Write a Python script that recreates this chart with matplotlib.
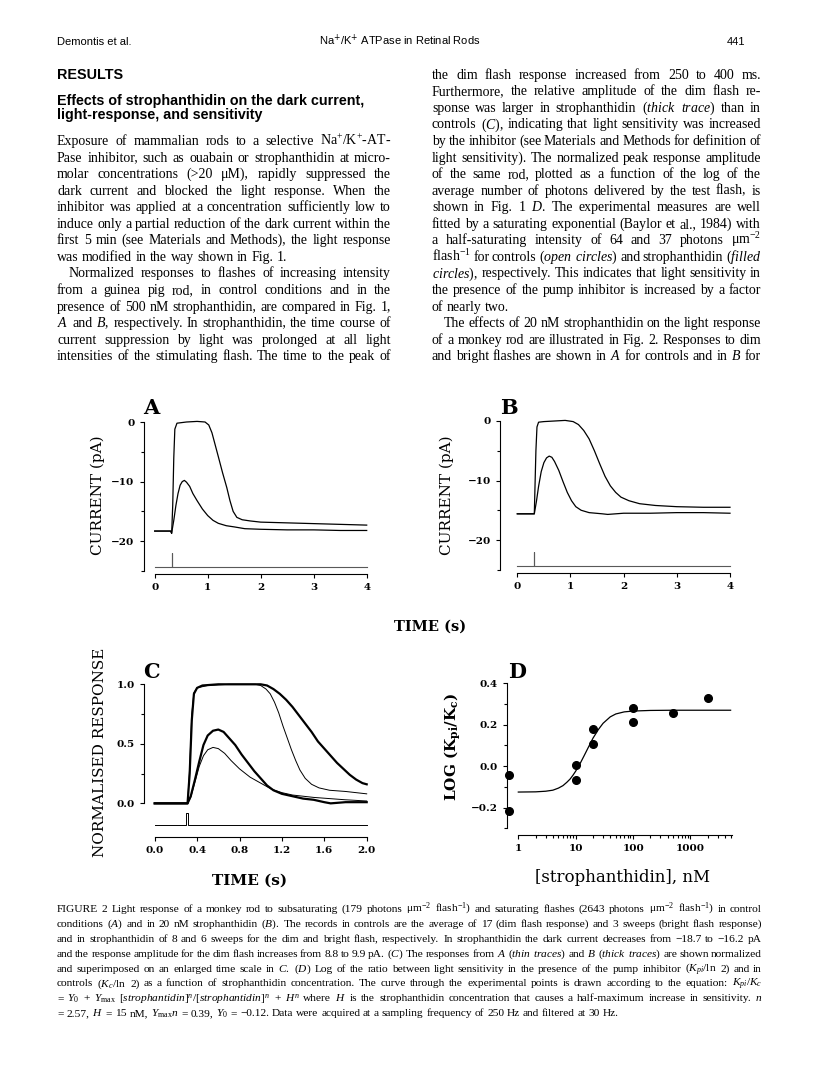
import matplotlib
matplotlib.use("Agg")
import matplotlib.pyplot as plt
from matplotlib import ticker

# ---- panel A: control rod, current (pA) vs time (s)
a_t_bright = [0.0, 0.30, 0.32, 0.34, 0.36, 0.38, 0.42, 0.6, 0.8, 0.95, 1.02, 1.08, 1.14, 1.2,
              1.28, 1.36, 1.42, 1.48, 1.55, 1.65, 1.8, 2.0, 2.4, 2.8, 3.2, 3.6, 4.0]
a_i_bright = [-18.3, -18.3, -18.7, -14.0, -6.0, -1.2, -0.2, 0.0, 0.1, 0.0, -0.5, -1.8, -3.8, -5.8,
              -8.5, -11.0, -13.2, -15.0, -16.0, -16.4, -16.6, -16.8, -16.9, -17.0, -17.1, -17.2, -17.3]
a_t_dim = [0.0, 0.30, 0.32, 0.36, 0.40, 0.44, 0.48, 0.52, 0.56, 0.60, 0.66, 0.72, 0.80, 0.90, 1.0,
           1.1, 1.2, 1.35, 1.5, 1.7, 2.0, 2.5, 3.0, 3.5, 4.0]
a_i_dim = [-18.3, -18.3, -18.6, -16.5, -14.0, -12.0, -10.6, -10.0, -9.8, -10.1, -10.8, -12.0, -13.2,
           -14.6, -15.7, -16.5, -17.0, -17.4, -17.6, -17.9, -18.0, -18.1, -18.1, -18.2, -18.2]

# ---- panel B: 20 nM strophanthidin
b_t_bright = [0.0, 0.32, 0.33, 0.35, 0.37, 0.40, 0.5, 0.7, 0.9, 1.05, 1.15, 1.25, 1.35, 1.45, 1.55,
              1.65, 1.75, 1.85, 1.95, 2.1, 2.3, 2.6, 3.0, 3.5, 4.0]
b_i_bright = [-15.6, -15.6, -12.0, -5.0, -1.0, -0.2, -0.1, 0.0, 0.1, -0.1, -0.6, -1.6, -3.0, -5.0, -7.2,
              -9.3, -10.9, -12.0, -12.8, -13.4, -13.9, -14.2, -14.4, -14.5, -14.5]
b_t_dim = [0.0, 0.32, 0.36, 0.40, 0.45, 0.50, 0.55, 0.60, 0.65, 0.70, 0.78, 0.86, 0.94, 1.02, 1.1,
           1.2, 1.35, 1.6, 1.7, 2.0, 2.5, 3.0, 3.5, 4.0]
b_i_dim = [-15.6, -15.6, -13.5, -11.0, -8.5, -7.0, -6.2, -5.9, -6.1, -6.8, -8.3, -10.2, -12.0, -13.4,
           -14.4, -15.0, -15.4, -15.6, -15.7, -15.5, -15.5, -15.4, -15.4, -15.5]

# flash monitor (A, B)
stim_t = [0.0, 0.32, 0.32, 0.32, 4.0]
stim_i = [-24.3, -24.3, -22.0, -24.3, -24.3]

# ---- panel C: normalised responses
c_t_thick_bright = [0.0, 0.31, 0.33, 0.35, 0.37, 0.40, 0.45, 0.6, 0.8, 1.0, 1.06, 1.12, 1.18, 1.24,
                    1.30, 1.36, 1.42, 1.48, 1.54, 1.60, 1.66, 1.72, 1.78, 1.84, 1.90, 1.96, 2.0]
c_r_thick_bright = [0.0, 0.0, 0.25, 0.7, 0.92, 0.97, 0.99, 1.0, 1.0, 1.0, 0.99, 0.96, 0.92, 0.87,
                    0.81, 0.74, 0.67, 0.60, 0.52, 0.46, 0.40, 0.34, 0.29, 0.24, 0.20, 0.17, 0.16]
c_t_thin_bright = [0.0, 0.31, 0.33, 0.35, 0.37, 0.40, 0.5, 0.7, 0.95, 1.0, 1.05, 1.09, 1.13, 1.17,
                   1.21, 1.25, 1.29, 1.33, 1.37, 1.42, 1.48, 1.55, 1.65, 1.8, 2.0]
c_r_thin_bright = [0.0, 0.0, 0.3, 0.75, 0.93, 0.97, 0.99, 1.0, 1.0, 0.99, 0.96, 0.92, 0.85, 0.76,
                   0.65, 0.55, 0.45, 0.36, 0.28, 0.21, 0.16, 0.13, 0.11, 0.10, 0.08]
c_t_thick_dim = [0.0, 0.31, 0.34, 0.38, 0.42, 0.46, 0.50, 0.55, 0.60, 0.65, 0.70, 0.76, 0.82, 0.88,
                 0.94, 1.0, 1.06, 1.12, 1.2, 1.3, 1.4, 1.5, 1.6, 1.66, 1.8, 2.0]
c_r_thick_dim = [0.0, 0.0, 0.06, 0.2, 0.35, 0.49, 0.57, 0.61, 0.62, 0.60, 0.55, 0.49, 0.41, 0.34,
                 0.27, 0.21, 0.15, 0.11, 0.08, 0.06, 0.04, 0.03, 0.01, 0.0, 0.01, 0.01]
c_t_thin_dim = [0.0, 0.31, 0.34, 0.38, 0.42, 0.46, 0.50, 0.55, 0.60, 0.66, 0.72, 0.80, 0.90, 1.0,
                1.1, 1.2, 1.3, 1.4, 1.5, 1.65, 1.8, 2.0]
c_r_thin_dim = [0.0, 0.0, 0.05, 0.18, 0.31, 0.40, 0.45, 0.47, 0.46, 0.42, 0.36, 0.29, 0.22, 0.17,
                0.12, 0.09, 0.07, 0.06, 0.05, 0.04, 0.03, 0.02]
c_stim_t = [0.0, 0.295, 0.295, 0.318, 0.318, 2.0]
c_stim_r = [-0.18, -0.18, -0.08, -0.08, -0.18, -0.18]

# ---- panel D: log(Kpi/Kc) vs [strophanthidin] (controls drawn at 0.7)
d_conc = [0.7, 0.7, 10, 10, 20, 20, 100, 100, 500, 2000]
d_logratio = [-0.045, -0.215, 0.008, -0.066, 0.177, 0.108, 0.282, 0.214, 0.259, 0.327]
d_fit_conc = [1, 2, 3, 4, 5, 6, 7, 8, 9, 10, 12, 14, 16, 18, 20, 25, 30, 40, 50, 70, 100, 200,
              500, 1000, 5000]
d_fit_val = [-0.125, -0.124, -0.121, -0.116, -0.106, -0.094, -0.078, -0.062, -0.043, -0.024, 0.014,
             0.05, 0.082, 0.11, 0.135, 0.178, 0.207, 0.238, 0.252, 0.262, 0.266, 0.269, 0.27, 0.27, 0.27]

# ---- page text
left_lines = [
    "Exposure of mammalian rods to a selective Na$^{+}$/K$^{+}$-AT-",
    "Pase inhibitor, such as ouabain or strophanthidin at micro-",
    "molar concentrations (>20 \u03bcM), rapidly suppressed the",
    "dark current and blocked the light response. When the",
    "inhibitor was applied at a concentration sufficiently low to",
    "induce only a partial reduction of the dark current within the",
    "first 5 min (see Materials and Methods), the light response",
    "was modified in the way shown in Fig. 1.",
    "Normalized responses to flashes of increasing intensity",
    "from a guinea pig rod, in control conditions and in the",
    "presence of 500 nM strophanthidin, are compared in Fig. 1,",
    "$\\mathit{A}$ and $\\mathit{B}$, respectively. In strophanthidin, the time course of",
    "current suppression by light was prolonged at all light",
    "intensities of the stimulating flash. The time to the peak of",
]
left_ragged = {7}
left_indent = {8}

right_lines = [
    "the dim flash response increased from 250 to 400 ms.",
    "Furthermore, the relative amplitude of the dim flash re-",
    "sponse was larger in strophanthidin ($\\mathit{thick}$ $\\mathit{trace}$) than in",
    "controls ($\\mathit{C}$), indicating that light sensitivity was increased",
    "by the inhibitor (see Materials and Methods for definition of",
    "light sensitivity). The normalized peak response amplitude",
    "of the same rod, plotted as a function of the log of the",
    "average number of photons delivered by the test flash, is",
    "shown in Fig. 1 $\\mathit{D}$. The experimental measures are well",
    "fitted by a saturating exponential (Baylor et al., 1984) with",
    "a half-saturating intensity of 64 and 37 photons \u03bcm$^{-2}$",
    "flash$^{-1}$ for controls ($\\mathit{open}$ $\\mathit{circles}$) and strophanthidin ($\\mathit{filled}$",
    "$\\mathit{circles}$), respectively. This indicates that light sensitivity in",
    "the presence of the pump inhibitor is increased by a factor",
    "of nearly two.",
    "The effects of 20 nM strophanthidin on the light response",
    "of a monkey rod are illustrated in Fig. 2. Responses to dim",
    "and bright flashes are shown in $\\mathit{A}$ for controls and in $\\mathit{B}$ for",
]
right_ragged = {14}
right_indent = {15}

caption_lines = [
    "FIGURE 2  Light response of a monkey rod to subsaturating (179 photons \u03bcm$^{-2}$ flash$^{-1}$) "
    "and saturating flashes (2643 photons \u03bcm$^{-2}$ flash$^{-1}$) in control",
    "conditions ($\\mathit{A}$) and in 20 nM strophanthidin ($\\mathit{B}$). The records in controls are the "
    "average of 17 (dim flash response) and 3 sweeps (bright flash response)",
    "and in strophanthidin of 8 and 6 sweeps for the dim and bright flash, respectively. In strophanthidin "
    "the dark current decreases from \u221218.7 to \u221216.2 pA",
    "and the response amplitude for the dim flash increases from 8.8 to 9.9 pA. ($\\mathit{C}$) The responses "
    "from $\\mathit{A}$ ($\\mathit{thin}$ $\\mathit{traces}$) and $\\mathit{B}$ ($\\mathit{thick}$ "
    "$\\mathit{traces}$) are shown normalized",
    "and superimposed on an enlarged time scale in $\\mathit{C}$. ($\\mathit{D}$) Log of the ratio between "
    "light sensitivity in the presence of the pump inhibitor ($K_{pi}$/ln 2) and in",
    "controls ($K_{c}$/ln 2) as a function of strophanthidin concentration. The curve through the "
    "experimental points is drawn according to the equation: $K_{pi}/K_{c}$",
    "= $Y_{0}$ + $Y_{\\mathrm{max}}$ $[\\mathit{strophantidin}]^{n}/[\\mathit{strophantidin}]^{n}$ + $H^{n}$ "
    "where $H$ is the strophanthidin concentration that causes a half-maximum increase in sensitivity. $n$",
    "= 2.57, $H$ = 15 nM, $Y_{\\mathrm{max}}n$ = 0.39, $Y_{0}$ = \u22120.12. Data were acquired at a "
    "sampling frequency of 250 Hz and filtered at 30 Hz.",
]

W, H = 816, 1076
plt.rcParams['mathtext.fontset'] = 'custom'
plt.rcParams['mathtext.rm'] = 'Liberation Serif'
plt.rcParams['mathtext.it'] = 'Liberation Serif:italic'
plt.rcParams['mathtext.bf'] = 'Liberation Serif:bold'
plt.rcParams['font.family'] = 'DejaVu Serif'
plt.rcParams['axes.linewidth'] = 0.8

fig = plt.figure(figsize=(W / 100, H / 100), dpi=100)
fig.patch.set_facecolor('white')
r = fig.canvas.get_renderer()


def put_line(s, x0, x1, y, size, family='Liberation Serif', justify=True, indent=0.0, weight='normal'):
    words = s.split()
    arts = [fig.text(0, 0, w, fontsize=size, family=family, weight=weight, va='baseline',
                     ha='left', math_fontfamily='custom') for w in words]
    widths = [a.get_window_extent(r).width for a in arts]
    avail = x1 - x0 - indent
    mingap = 0.18 * size * 100 / 72
    if justify and sum(widths) + mingap * (len(arts) - 1) > avail:
        f = (avail - mingap * (len(arts) - 1)) / sum(widths)
        for a in arts:
            a.set_fontsize(size * f)
        widths = [a.get_window_extent(r).width for a in arts]
    if justify and len(arts) > 1:
        gap = (avail - sum(widths)) / (len(arts) - 1)
    else:
        gap = 0.25 * size * 100 / 72
    x = x0 + indent
    for a, w in zip(arts, widths):
        a.set_position((x / W, 1 - y / H))
        x += w + gap


def fit_size(s, width, family, weight, base=10.0):
    t = fig.text(0, 0, s, fontsize=base, family=family, weight=weight, math_fontfamily='custom')
    w = t.get_window_extent(r).width
    t.remove()
    return base * width / w


def label(x, y, s, size, rot=0, weight='normal', ha='center', va='center', **kw):
    fig.text(x / W, 1 - y / H, s, fontsize=size, rotation=rot, weight=weight, ha=ha, va=va,
             family='DejaVu Serif', **kw)


# running head
hs = fit_size("Demontis et al.", 74, 'Liberation Sans', 'normal')
fig.text(57 / W, 1 - 45 / H, "Demontis et al.", fontsize=hs, family='Liberation Sans', va='baseline',
         math_fontfamily='custom')
fig.text(400 / W, 1 - 45 / H, "Na$^{+}$/K$^{+}$ ATPase in Retinal Rods", fontsize=hs,
         family='Liberation Sans', va='baseline', ha='center', math_fontfamily='dejavusans')
fig.text(745 / W, 1 - 45 / H, "441", fontsize=hs, family='Liberation Sans', va='baseline', ha='right')

rs = fit_size("RESULTS", 66, 'Liberation Sans', 'bold')
fig.text(57 / W, 1 - 79 / H, "RESULTS", fontsize=rs, family='Liberation Sans', weight='bold',
         va='baseline')
es = fit_size("Effects of strophanthidin on the dark current,", 307, 'Liberation Sans', 'bold')
fig.text(57 / W, 1 - 104.5 / H, "Effects of strophanthidin on the dark current,", fontsize=es,
         family='Liberation Sans', weight='bold', va='baseline')
fig.text(57 / W, 1 - 119.5 / H, "light-response, and sensitivity", fontsize=es,
         family='Liberation Sans', weight='bold', va='baseline')

# body columns
LINE = 16.55
for i, s in enumerate(left_lines):
    put_line(s, 57, 391, 141.5 + LINE * i + 3.5, 10, justify=i not in left_ragged,
             indent=12 if i in left_indent else 0)
for i, s in enumerate(right_lines):
    put_line(s, 432, 761, 75.3 + LINE * i + 3.5, 10, justify=i not in right_ragged,
             indent=12 if i in right_indent else 0)
for i, s in enumerate(caption_lines):
    put_line(s, 57, 762, 909 + 14.9 * i + 3, 8.2, justify=i < len(caption_lines) - 1)


def px_axes(x0, x1, y0, y1):
    return fig.add_axes([x0 / W, 1 - y1 / H, (x1 - x0) / W, (y1 - y0) / H])


def style(ax, left_out, bottom_out):
    for s in ('top', 'right'):
        ax.spines[s].set_visible(False)
    ax.spines['left'].set_position(('outward', left_out))
    ax.spines['bottom'].set_position(('outward', bottom_out))
    ax.tick_params(which='major', length=2.8, width=0.8, labelsize=7.5, pad=4)
    ax.tick_params(which='minor', length=2.0, width=0.8)
    ax.patch.set_visible(False)


def minus(v, fmt):
    return (fmt % v).replace('-', '\u2212')


# ---- A and B
for (x0, x1, y0, y1, lout, tb, ib, td, idim) in [
        (154.7, 366.7, 422, 571, 7.7, a_t_bright, a_i_bright, a_t_dim, a_i_dim),
        (517.3, 730.0, 421, 569.75, 12.2, b_t_bright, b_i_bright, b_t_dim, b_i_dim)]:
    ax = px_axes(x0, x1, y0, y1)
    style(ax, lout, 2.2)
    ax.plot(tb, ib, color='black', lw=0.9, clip_on=False)
    ax.plot(td, idim, color='black', lw=0.9, clip_on=False)
    ax.plot(stim_t, stim_i, color='0.35', lw=0.8, clip_on=False)
    ax.set_xlim(0, 4)
    ax.set_ylim(-25, 0)
    ax.set_xticks([0, 1, 2, 3, 4], labels=['0', '1', '2', '3', '4'], fontweight='bold')
    ax.set_yticks([0, -10, -20], labels=[minus(v, '%d') for v in (0, -10, -20)], fontweight='bold')
    ax.set_yticks([-5, -15, -25], minor=True)

label(98, 495, "CURRENT (pA)", 11, rot=90)
label(446.7, 495, "CURRENT (pA)", 11, rot=90)
label(430, 627, "TIME (s)", 10.5, weight='bold')
label(151.7, 408, "A", 15, weight='bold')
label(509.3, 408, "B", 15, weight='bold')

# ---- C
ax = px_axes(154.7, 366.7, 684.3, 836.7)
style(ax, 7.7, 0)
ax.plot(c_t_thin_bright, c_r_thin_bright, color='black', lw=0.7, clip_on=False)
ax.plot(c_t_thin_dim, c_r_thin_dim, color='black', lw=0.7, clip_on=False)
ax.plot(c_t_thick_bright, c_r_thick_bright, color='black', lw=1.6, clip_on=False)
ax.plot(c_t_thick_dim, c_r_thick_dim, color='black', lw=1.6, clip_on=False)
ax.plot(c_stim_t, c_stim_r, color='black', lw=0.7, clip_on=False)
ax.set_xlim(0, 2)
ax.set_ylim(-0.28, 1.0)
ax.spines['left'].set_bounds(0, 1)
xt = [0.0, 0.4, 0.8, 1.2, 1.6, 2.0]
ax.set_xticks(xt, labels=['%.1f' % v for v in xt], fontweight='bold')
ax.set_yticks([0, 0.5, 1.0], labels=['0.0', '0.5', '1.0'], fontweight='bold')
ax.set_yticks([0.25, 0.75], minor=True)

label(100, 752, "NORMALISED RESPONSE", 11, rot=90)
label(250, 881, "TIME (s)", 11, weight='bold')
label(151.7, 672, "C", 15, weight='bold')

# ---- D
ax = px_axes(507.3, 731.7, 683.3, 828.3)
style(ax, 0, 4.8)
ax.set_xscale('log')
ax.plot(d_fit_conc, d_fit_val, color='black', lw=0.9)
ax.plot(d_conc, d_logratio, 'o', color='black', ms=5.5, clip_on=False)
ax.set_xlim(0.643, 5224)
ax.set_ylim(-0.3, 0.4)
ax.spines['bottom'].set_bounds(1, 5224)
ax.set_xticks([1, 10, 100, 1000], labels=['1', '10', '100', '1000'], fontweight='bold')
ax.set_xticks([m * d for d in (1, 10, 100) for m in range(2, 10)] + [2000, 3000, 4000, 5000],
              minor=True)
ax.xaxis.set_minor_formatter(ticker.NullFormatter())
yt = [-0.2, 0.0, 0.2, 0.4]
ax.set_yticks(yt, labels=[minus(v, '%.1f') for v in yt], fontweight='bold')
ax.set_yticks([-0.3, -0.1, 0.1, 0.3], minor=True)

label(453.3, 747, "LOG (K$_{\\mathbf{pi}}$/K$_{\\mathbf{c}}$)", 11, rot=90, weight='bold',
      math_fontfamily='dejavuserif')
label(623, 878, "[strophanthidin], nM", 12)
label(516.7, 672, "D", 15, weight='bold')

fig.savefig("out.png", dpi=100)
